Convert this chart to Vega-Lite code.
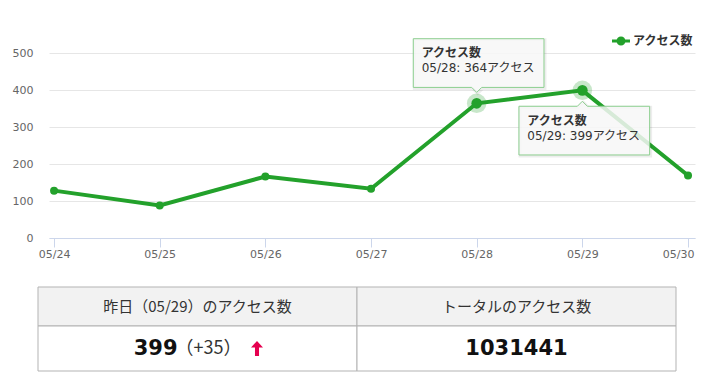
{
  "$schema": "https://vega.github.io/schema/vega-lite/v6.json",
  "background": "white",
  "padding": {"left": 12, "top": 32, "right": 5, "bottom": 5},
  "bounds": "flush",
  "spacing": 49,
  "config": {
    "font": "Noto Sans CJK JP",
    "view": {"stroke": null}
  },
  "vconcat": [
    {
      "width": 646,
      "height": 185,
      "data": {"values": [
        {"date": "05/24", "visits": 128},
        {"date": "05/25", "visits": 88},
        {"date": "05/26", "visits": 166},
        {"date": "05/27", "visits": 133},
        {"date": "05/28", "visits": 364},
        {"date": "05/29", "visits": 399},
        {"date": "05/30", "visits": 169}
      ]},
      "encoding": {
        "x": {
          "field": "date", "type": "ordinal", "sort": null,
          "scale": {"type": "point", "padding": 0.057, "align": 0.42},
          "axis": {
            "title": null, "labelAngle": 0, "labelFont": "DejaVu Sans", "labelFontSize": 11,
            "labelColor": "#666666", "domainColor": "#ccd6eb", "domainWidth": 1,
            "tickColor": "#ccd6eb", "tickSize": 9, "labelPadding": 1, "grid": false,
            "labelAlign": {"condition": {"test": "datum.value === '05/30'", "value": "right"}, "value": "center"},
            "labelOffset": {"condition": {"test": "datum.value === '05/30'", "value": 6}, "value": 0}
          }
        },
        "y": {
          "field": "visits", "type": "quantitative",
          "scale": {"domain": [0, 500], "nice": false},
          "axis": {
            "title": null, "values": [0, 100, 200, 300, 400, 500], "domain": false, "ticks": false,
            "labelPadding": 16, "labelFont": "DejaVu Sans", "labelFontSize": 11, "labelColor": "#666666",
            "gridColor": "#e6e6e6", "gridWidth": 1
          }
        }
      },
      "layer": [
        {
          "mark": {"type": "line", "strokeWidth": 4, "color": "#23a12b"},
          "encoding": {
            "color": {
              "datum": "アクセス数", "type": "nominal",
              "scale": {"range": ["#23a12b"]},
              "legend": {
                "orient": "none", "legendX": 563, "legendY": -21, "title": null, "padding": 0,
                "labelFont": "Noto Sans CJK JP", "labelFontSize": 12, "labelFontWeight": "bold",
                "labelColor": "#333333", "labelOffset": 3, "symbolSize": 324,
                "symbolType": "M-1,-0.17H1V0.17H-1Z M0.5,0A0.5,0.5,0,1,1,-0.5,0A0.5,0.5,0,1,1,0.5,0Z",
                "symbolStrokeWidth": 0, "symbolFillColor": "#23a12b",
                "encode": {"symbols": {"update": {"fill": {"value": "#23a12b"}, "strokeWidth": {"value": 0}, "opacity": {"value": 1}}}}
              }
            }
          }
        },
        {
          "mark": {"type": "point", "filled": true, "opacity": 1, "size": 64, "color": "#23a12b"}
        },
        {
          "transform": [{"filter": {"field": "date", "oneOf": ["05/28", "05/29"]}}],
          "mark": {"type": "point", "filled": true, "opacity": 0.25, "size": 380, "color": "#23a12b"}
        },
        {
          "transform": [{"filter": {"field": "date", "oneOf": ["05/28", "05/29"]}}],
          "mark": {"type": "point", "filled": true, "opacity": 1, "size": 113, "color": "#23a12b"}
        },
        {
          "transform": [{"filter": {"field": "date", "equal": "05/28"}}],
          "mark": {
            "type": "point", "filled": false, "opacity": 1, "size": 400,
            "shape": "M-6.24,-6.36H6.83V-1.49H0.6L0.1,-0.99L-0.4,-1.49H-6.24Z",
            "stroke": "#000000", "strokeOpacity": 0.07, "strokeWidth": 3, "fill": null
          }
        },
        {
          "transform": [{"filter": {"field": "date", "equal": "05/28"}}],
          "mark": {
            "type": "point", "filled": true, "opacity": 1, "size": 400,
            "shape": "M-6.34,-6.46H6.73V-1.59H0.5L0,-1.09L-0.5,-1.59H-6.34Z",
            "fill": "#f7f7f7", "fillOpacity": 0.85, "stroke": "#8ccf8f", "strokeWidth": 1
          }
        },
        {
          "transform": [{"filter": {"field": "date", "equal": "05/29"}}],
          "mark": {
            "type": "point", "filled": false, "opacity": 1, "size": 400,
            "shape": "M-6.24,1.69H-0.4L0.1,1.19L0.6,1.69H6.83V6.56H-6.24Z",
            "stroke": "#000000", "strokeOpacity": 0.07, "strokeWidth": 3, "fill": null
          }
        },
        {
          "transform": [{"filter": {"field": "date", "equal": "05/29"}}],
          "mark": {
            "type": "point", "filled": true, "opacity": 1, "size": 400,
            "shape": "M-6.34,1.59H-0.5L0,1.09L0.5,1.59H6.73V6.46H-6.34Z",
            "fill": "#f7f7f7", "fillOpacity": 0.85, "stroke": "#8ccf8f", "strokeWidth": 1
          }
        },
        {
          "transform": [{"filter": {"field": "date", "equal": "05/28"}}],
          "mark": {"type": "text", "align": "left", "baseline": "middle", "dx": -55, "dy": -50.3, "fontSize": 12, "fontWeight": "bold", "color": "#333333"},
          "encoding": {"text": {"value": "アクセス数"}}
        },
        {
          "transform": [
            {"filter": {"field": "date", "equal": "05/28"}},
            {"calculate": "datum.date + ': ' + datum.visits + 'アクセス'", "as": "tip"}
          ],
          "mark": {"type": "text", "align": "left", "baseline": "middle", "dx": -55, "dy": -35.3, "fontSize": 12, "font": "'DejaVu Sans', 'Noto Sans CJK JP'", "color": "#333333"},
          "encoding": {"text": {"field": "tip"}}
        },
        {
          "transform": [{"filter": {"field": "date", "equal": "05/29"}}],
          "mark": {"type": "text", "align": "left", "baseline": "middle", "dx": -55, "dy": 30.5, "fontSize": 12, "fontWeight": "bold", "color": "#333333"},
          "encoding": {"text": {"value": "アクセス数"}}
        },
        {
          "transform": [
            {"filter": {"field": "date", "equal": "05/29"}},
            {"calculate": "datum.date + ': ' + datum.visits + 'アクセス'", "as": "tip"}
          ],
          "mark": {"type": "text", "align": "left", "baseline": "middle", "dx": -55, "dy": 45.5, "fontSize": 12, "font": "'DejaVu Sans', 'Noto Sans CJK JP'", "color": "#333333"},
          "encoding": {"text": {"field": "tip"}}
        }
      ]
    },
    {
      "bounds": "flush",
      "spacing": 0,
      "vconcat": [
        {
          "width": 646,
          "height": 39,
          "data": {"values": [
            {"col": "yesterday", "label": "昨日（05/29）のアクセス数"},
            {"col": "total", "label": "トータルのアクセス数"}
          ]},
          "encoding": {
            "x": {
              "field": "col", "type": "nominal", "sort": null,
              "scale": {"type": "band", "domain": ["yesterday", "total"], "range": [-11, 627], "paddingInner": 0, "paddingOuter": 0},
              "axis": null
            }
          },
          "layer": [
            {"mark": {"type": "rect", "fill": "#f2f2f2", "stroke": "#b3b3b3", "strokeWidth": 1}},
            {"mark": {"type": "text", "fontSize": 15, "color": "#333333", "baseline": "middle"}, "encoding": {"text": {"field": "label"}}}
          ]
        },
        {
          "width": 646,
          "height": 45,
          "data": {"values": [
            {"col": "yesterday", "main": "399", "diff": "（+35）"},
            {"col": "total", "main": "1031441", "diff": ""}
          ]},
          "encoding": {
            "x": {
              "field": "col", "type": "nominal", "sort": null,
              "scale": {"type": "band", "domain": ["yesterday", "total"], "range": [-11, 627], "paddingInner": 0, "paddingOuter": 0},
              "axis": null
            }
          },
          "layer": [
            {"mark": {"type": "rect", "fill": "#ffffff", "stroke": "#b3b3b3", "strokeWidth": 1}},
            {
              "transform": [{"filter": {"field": "col", "equal": "yesterday"}}],
              "mark": {"type": "text", "align": "right", "baseline": "middle", "dx": -20, "fontSize": 21, "fontWeight": "bold", "font": "DejaVu Sans", "color": "#111111"},
              "encoding": {"text": {"field": "main"}}
            },
            {
              "transform": [{"filter": {"field": "col", "equal": "yesterday"}}],
              "mark": {"type": "text", "align": "left", "baseline": "middle", "dx": -22, "fontSize": 18, "color": "#333333"},
              "encoding": {"text": {"field": "diff"}}
            },
            {
              "transform": [{"filter": {"field": "col", "equal": "yesterday"}}],
              "mark": {
                "type": "point", "filled": true, "opacity": 1, "size": 225, "xOffset": 59.5,
                "shape": "M0,-1L0.8,-0.15L0.27,-0.15L0.27,1L-0.27,1L-0.27,-0.15L-0.8,-0.15Z",
                "color": "#e5004f"
              }
            },
            {
              "transform": [{"filter": {"field": "col", "equal": "total"}}],
              "mark": {"type": "text", "baseline": "middle", "fontSize": 21, "fontWeight": "bold", "font": "DejaVu Sans", "color": "#111111"},
              "encoding": {"text": {"field": "main"}}
            }
          ]
        }
      ]
    }
  ]
}
